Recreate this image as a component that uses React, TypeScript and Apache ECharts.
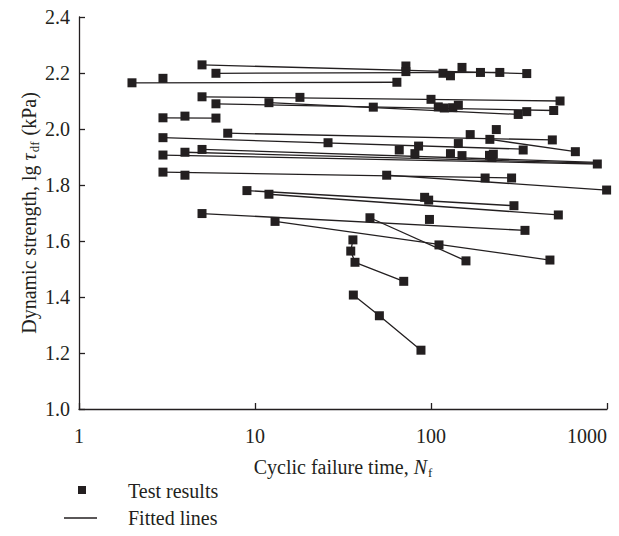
import React, { useEffect, useRef } from "react";
import * as echarts from "echarts";

const yTickValues = [1.0, 1.2, 1.4, 1.6, 1.8, 2.0, 2.2, 2.4];
const xTickValues = [1, 10, 100, 1000];

// Test results [Nf, lg tau_df]
const groupTop: [number, number][] = [
  [5, 2.229], [6, 2.199], [2, 2.165], [3, 2.181], [72, 2.225], [72, 2.205], [117, 2.199],
  [129, 2.19], [150, 2.22], [191, 2.202], [246, 2.202], [350, 2.198], [64, 2.167],
];
const group210: [number, number][] = [
  [5, 2.115], [6, 2.09], [12, 2.094], [18, 2.113], [100, 2.106], [541, 2.1], [47, 2.078],
  [110, 2.079], [119, 2.075], [133, 2.076], [143, 2.085], [313, 2.052], [350, 2.062], [498, 2.066],
];
const group204: [number, number][] = [[3, 2.04], [4, 2.046], [6, 2.039]];
const group197: [number, number][] = [
  [3, 1.969], [7, 1.985], [26, 1.951], [167, 1.98], [235, 1.998], [216, 1.963], [489, 1.961],
];
const group191: [number, number][] = [
  [3, 1.907], [4, 1.917], [5, 1.927], [66, 1.925], [85, 1.939], [81, 1.912], [143, 1.948],
  [129, 1.912], [150, 1.905], [215, 1.906], [222, 1.898], [226, 1.91], [334, 1.925],
  [661, 1.919], [881, 1.875],
];
const group184: [number, number][] = [
  [3, 1.846], [4, 1.835], [56, 1.835], [203, 1.825], [287, 1.825], [995, 1.782],
];
const group177: [number, number][] = [
  [9, 1.78], [12, 1.767], [92, 1.756], [97, 1.746], [296, 1.726], [529, 1.693],
];
const group170: [number, number][] = [
  [5, 1.698], [13, 1.67], [45, 1.683], [98, 1.677], [342, 1.638], [111, 1.586], [158, 1.529], [474, 1.532],
];
const groupLow: [number, number][] = [
  [36, 1.604], [35, 1.564], [37, 1.524], [70, 1.456], [36.2, 1.407], [50.9, 1.333], [87.7, 1.21],
];

// Fitted lines (end points)
const fittedLines: [number, number][][] = [
  [[5, 2.229], [350, 2.198]],
  [[6, 2.199], [246, 2.202]],
  [[2, 2.165], [64, 2.167]],
  [[5, 2.115], [541, 2.1]],
  [[6, 2.09], [498, 2.066]],
  [[12, 2.094], [313, 2.052]],
  [[3, 2.04], [6, 2.039]],
  [[7, 1.985], [489, 1.961]],
  [[3, 1.969], [334, 1.928]],
  [[216, 1.963], [661, 1.919]],
  [[3, 1.907], [881, 1.875]],
  [[4, 1.917], [881, 1.878]],
  [[5, 1.927], [881, 1.881]],
  [[3, 1.846], [287, 1.825]],
  [[56, 1.835], [995, 1.782]],
  [[9, 1.78], [296, 1.726]],
  [[12, 1.767], [529, 1.693]],
  [[5, 1.698], [342, 1.638]],
  [[13, 1.67], [474, 1.532]],
  [[45, 1.683], [158, 1.529]],
  [[36, 1.604], [35, 1.564], [37, 1.524], [70, 1.456]],
  [[36.2, 1.407], [50.9, 1.333], [87.7, 1.21]],
];

const testResults = [
  ...groupTop, ...group210, ...group204, ...group197, ...group191,
  ...group184, ...group177, ...group170, ...groupLow,
];

const INK = "#231f20";
const FONT = "'Liberation Serif', 'DejaVu Serif', serif";

export default function App() {
  const ref = useRef<HTMLDivElement>(null);
  useEffect(() => {
    const chart = echarts.init(ref.current!, null, { renderer: "svg" });
    const lineSeries = fittedLines.map((seg) => ({
      name: "Fitted lines",
      type: "line",
      data: seg,
      showSymbol: false,
      symbol: "none",
      lineStyle: { color: INK, width: 1.3, opacity: 1 },
      z: 2,
      silent: true,
    }));
    chart.setOption({
      animation: false,
      backgroundColor: "#ffffff",
      textStyle: { fontFamily: FONT, color: INK },
      grid: { left: 79, top: 17, right: 12, bottom: 127, containLabel: false },
      xAxis: {
        type: "log",
        logBase: 10,
        min: xTickValues[0],
        max: xTickValues[xTickValues.length - 1],
        axisLine: { lineStyle: { color: INK, width: 1.3 } },
        axisTick: { inside: true, length: 6, lineStyle: { color: INK, width: 1.3 } },
        splitLine: { show: false },
        axisLabel: {
          fontFamily: FONT, fontSize: 20, color: INK, margin: 17,
          alignMaxLabel: "right",
          formatter: (v: number) => String(Math.round(v)),
        },
      },
      yAxis: {
        type: "value",
        min: yTickValues[0],
        max: yTickValues[yTickValues.length - 1],
        interval: 0.2,
        axisLine: { show: true, lineStyle: { color: INK, width: 1.3 } },
        axisTick: { show: true, inside: true, length: 6, lineStyle: { color: INK, width: 1.3 } },
        splitLine: { show: false },
        axisLabel: {
          fontFamily: FONT, fontSize: 20, color: INK, margin: 9,
          formatter: (v: number) => v.toFixed(1),
        },
      },
      graphic: [
        {
          type: "text",
          x: 29,
          y: 213,
          rotation: Math.PI / 2,
          style: {
            text: "{a|Dynamic strength, lg }{i|τ}{s|df}{a| (kPa)}",
            align: "center",
            verticalAlign: "middle",
            fill: INK,
            rich: {
              a: { fontFamily: FONT, fontSize: 20, fill: INK, lineHeight: 24 },
              i: { fontFamily: FONT, fontSize: 20, fontStyle: "italic", fill: INK, lineHeight: 24 },
              s: { fontFamily: FONT, fontSize: 13, fill: INK, lineHeight: 24, verticalAlign: "bottom", padding: [7, 1, 0, 1] },
            },
          },
        },
        {
          type: "text",
          x: 343,
          y: 467,
          style: {
            text: "{a|Cyclic failure time, }{i|N}{s|f}",
            align: "center",
            verticalAlign: "middle",
            fill: INK,
            rich: {
              a: { fontFamily: FONT, fontSize: 20, fill: INK, lineHeight: 24 },
              i: { fontFamily: FONT, fontSize: 20, fontStyle: "italic", fill: INK, lineHeight: 24 },
              s: { fontFamily: FONT, fontSize: 13, fill: INK, lineHeight: 24, verticalAlign: "bottom", padding: [7, 0, 0, 1] },
            },
          },
        },
        { type: "rect", shape: { x: 78, y: 486, width: 8, height: 8 }, style: { fill: INK } },
        {
          type: "text", x: 128, y: 491,
          style: { text: "Test results", fontFamily: FONT, fontSize: 20, fill: INK, verticalAlign: "middle" },
        },
        { type: "line", shape: { x1: 64, y1: 518, x2: 97, y2: 518 }, style: { stroke: INK, lineWidth: 1.3 } },
        {
          type: "text", x: 128, y: 518,
          style: { text: "Fitted lines", fontFamily: FONT, fontSize: 20, fill: INK, verticalAlign: "middle" },
        },
      ],
      series: [
        ...lineSeries,
        {
          name: "Test results",
          type: "scatter",
          data: testResults,
          symbol: "rect",
          symbolSize: 9,
          itemStyle: { color: INK, opacity: 1 },
          z: 3,
          silent: true,
        },
      ],
    });
    return () => chart.dispose();
  }, []);
  return (
    <div
      ref={ref}
      style={{ position: "fixed", left: 0, top: 0, width: 619, height: 536 }}
    />
  );
}
